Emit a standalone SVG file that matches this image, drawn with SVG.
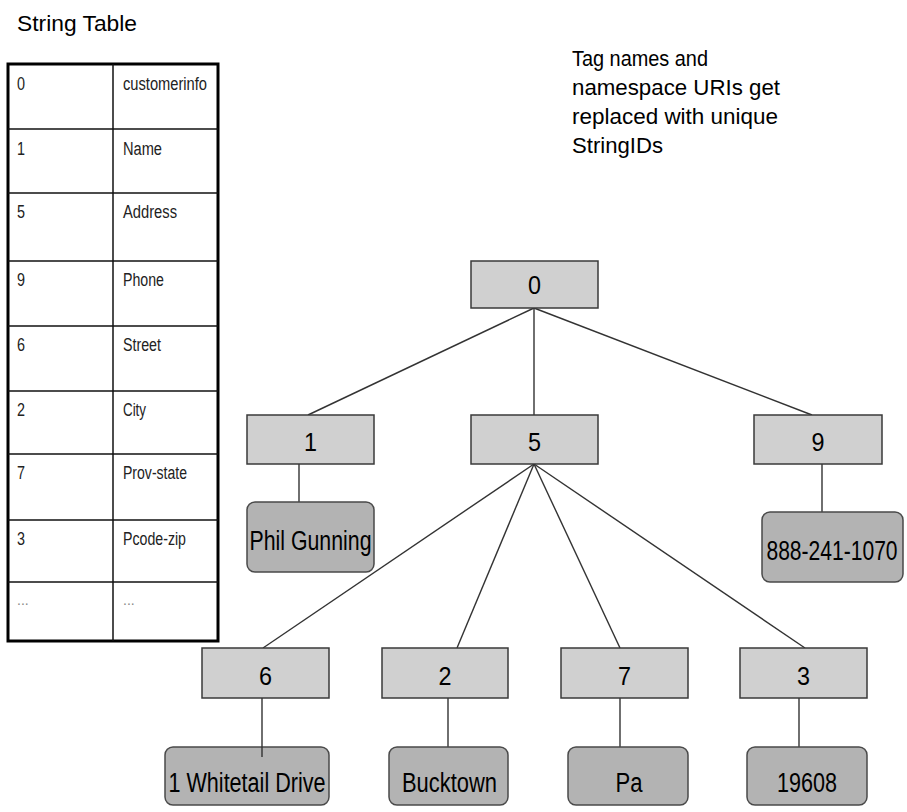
<svg xmlns="http://www.w3.org/2000/svg" width="907" height="812" viewBox="0 0 907 812">
  <style>
    .title { font-family: "Liberation Sans", Arial, sans-serif; font-size: 22px; fill: #000; }
    .cell { font-family: "Liberation Sans", Arial, sans-serif; font-size: 18px; fill: #222; }
    .dots { font-family: "Liberation Sans", Arial, sans-serif; font-size: 14px; fill: #888; }
    .grid { stroke: #111; stroke-width: 1.5; fill: none; }
    .frame { stroke: #000; stroke-width: 3; fill: #fff; }
    .tag rect { fill: #d0d0d0; stroke: #3a3a3a; stroke-width: 1.5; }
    .val rect { fill: #b3b3b3; stroke: #4a4a4a; stroke-width: 1.5; }
    .lbl { font-family: "Liberation Sans", Arial, sans-serif; font-size: 26px; fill: #000; text-anchor: middle; }
    .big { font-size: 27px; }
    .edges line { stroke: #333; stroke-width: 1.4; }
  </style>

  <!-- String table -->
  <g id="string-table">
    <text class="title" x="17" y="31" textLength="120" lengthAdjust="spacingAndGlyphs">String Table</text>
    <rect class="frame" x="8" y="64" width="210" height="577"/>
    <line class="grid" x1="113" y1="64" x2="113" y2="641"/>
    <line class="grid" x1="8" y1="129" x2="218" y2="129"/>
    <line class="grid" x1="8" y1="193" x2="218" y2="193"/>
    <line class="grid" x1="8" y1="261" x2="218" y2="261"/>
    <line class="grid" x1="8" y1="326" x2="218" y2="326"/>
    <line class="grid" x1="8" y1="391" x2="218" y2="391"/>
    <line class="grid" x1="8" y1="454" x2="218" y2="454"/>
    <line class="grid" x1="8" y1="520" x2="218" y2="520"/>
    <line class="grid" x1="8" y1="582" x2="218" y2="582"/>

    <text class="cell" x="17" y="90" textLength="8" lengthAdjust="spacingAndGlyphs">0</text>
    <text class="cell" x="123" y="90" textLength="84" lengthAdjust="spacingAndGlyphs">customerinfo</text>
    <text class="cell" x="17" y="155" textLength="8" lengthAdjust="spacingAndGlyphs">1</text>
    <text class="cell" x="123" y="155" textLength="39" lengthAdjust="spacingAndGlyphs">Name</text>
    <text class="cell" x="17" y="218" textLength="8" lengthAdjust="spacingAndGlyphs">5</text>
    <text class="cell" x="123" y="218" textLength="54" lengthAdjust="spacingAndGlyphs">Address</text>
    <text class="cell" x="17" y="286" textLength="8" lengthAdjust="spacingAndGlyphs">9</text>
    <text class="cell" x="123" y="286" textLength="41" lengthAdjust="spacingAndGlyphs">Phone</text>
    <text class="cell" x="17" y="351" textLength="8" lengthAdjust="spacingAndGlyphs">6</text>
    <text class="cell" x="123" y="351" textLength="38" lengthAdjust="spacingAndGlyphs">Street</text>
    <text class="cell" x="17" y="416" textLength="8" lengthAdjust="spacingAndGlyphs">2</text>
    <text class="cell" x="123" y="416" textLength="23" lengthAdjust="spacingAndGlyphs">City</text>
    <text class="cell" x="17" y="479" textLength="8" lengthAdjust="spacingAndGlyphs">7</text>
    <text class="cell" x="123" y="479" textLength="64" lengthAdjust="spacingAndGlyphs">Prov-state</text>
    <text class="cell" x="17" y="545" textLength="8" lengthAdjust="spacingAndGlyphs">3</text>
    <text class="cell" x="123" y="545" textLength="63" lengthAdjust="spacingAndGlyphs">Pcode-zip</text>
    <text class="dots" x="17" y="605">...</text>
    <text class="dots" x="123" y="605">...</text>
  </g>

  <!-- Caption -->
  <g id="caption">
    <text class="title" x="572" y="66" textLength="136" lengthAdjust="spacingAndGlyphs">Tag names and</text>
    <text class="title" x="572" y="95" textLength="208" lengthAdjust="spacingAndGlyphs">namespace URIs get</text>
    <text class="title" x="572" y="124" textLength="206" lengthAdjust="spacingAndGlyphs">replaced with unique</text>
    <text class="title" x="572" y="153" textLength="91" lengthAdjust="spacingAndGlyphs">StringIDs</text>
  </g>

  <!-- Tree edges -->
  <g id="edges" class="edges">
    <line x1="534" y1="308" x2="308" y2="415"/>
    <line x1="534" y1="308" x2="534" y2="415"/>
    <line x1="534" y1="308" x2="812" y2="415"/>
    <line x1="299" y1="464" x2="299" y2="502"/>
    <line x1="822" y1="464" x2="822" y2="512"/>
    <line x1="534" y1="464" x2="263" y2="648"/>
    <line x1="534" y1="464" x2="457" y2="648"/>
    <line x1="534" y1="464" x2="620" y2="648"/>
    <line x1="534" y1="464" x2="805" y2="648"/>
    <line x1="448" y1="698" x2="448" y2="747"/>
    <line x1="620" y1="698" x2="620" y2="747"/>
    <line x1="799" y1="698" x2="799" y2="747"/>
  </g>

  <!-- Tag nodes -->
  <g id="n0" class="tag"><rect x="471" y="261" width="127" height="47"/><text class="lbl" x="534.5" y="294" textLength="13" lengthAdjust="spacingAndGlyphs">0</text></g>
  <g id="n1" class="tag"><rect x="247" y="415" width="127" height="49"/><text class="lbl" x="310.5" y="451" textLength="13" lengthAdjust="spacingAndGlyphs">1</text></g>
  <g id="n5" class="tag"><rect x="471" y="415" width="127" height="49"/><text class="lbl" x="534.5" y="451" textLength="13" lengthAdjust="spacingAndGlyphs">5</text></g>
  <g id="n9" class="tag"><rect x="754" y="415" width="128" height="49"/><text class="lbl" x="818" y="451" textLength="13" lengthAdjust="spacingAndGlyphs">9</text></g>
  <g id="n6" class="tag"><rect x="202" y="648" width="127" height="50"/><text class="lbl" x="265.5" y="685" textLength="13" lengthAdjust="spacingAndGlyphs">6</text></g>
  <g id="n2" class="tag"><rect x="382" y="648" width="126" height="50"/><text class="lbl" x="445" y="685" textLength="13" lengthAdjust="spacingAndGlyphs">2</text></g>
  <g id="n7" class="tag"><rect x="561" y="648" width="127" height="50"/><text class="lbl" x="624.5" y="685" textLength="13" lengthAdjust="spacingAndGlyphs">7</text></g>
  <g id="n3" class="tag"><rect x="740" y="648" width="127" height="50"/><text class="lbl" x="803.5" y="685" textLength="13" lengthAdjust="spacingAndGlyphs">3</text></g>

  <!-- Value nodes -->
  <g id="v-name" class="val"><rect x="247" y="502" width="127" height="70" rx="8"/><text class="lbl big" x="310.5" y="550" textLength="122" lengthAdjust="spacingAndGlyphs">Phil Gunning</text></g>
  <g id="v-phone" class="val"><rect x="762" y="512" width="141" height="70" rx="8"/><text class="lbl big" transform="translate(832 560) scale(0.78 1)" x="0" y="0">888-241-1070</text></g>
  <g id="v-street" class="val"><rect x="165" y="747" width="164" height="58" rx="8"/><text class="lbl big" x="247" y="792" textLength="157" lengthAdjust="spacingAndGlyphs">1 Whitetail Drive</text></g>
  <g id="v-city" class="val"><rect x="389" y="747" width="119" height="58" rx="8"/><text class="lbl big" x="449.5" y="792" textLength="95" lengthAdjust="spacingAndGlyphs">Bucktown</text></g>
  <g id="v-state" class="val"><rect x="568" y="747" width="120" height="58" rx="8"/><text class="lbl big" x="629" y="792" textLength="27" lengthAdjust="spacingAndGlyphs">Pa</text></g>
  <g id="v-zip" class="val"><rect x="747" y="747" width="120" height="58" rx="8"/><text class="lbl big" x="807" y="792" textLength="60" lengthAdjust="spacingAndGlyphs">19608</text></g>

  <!-- stem that runs into the street box -->
  <g id="edges-over" class="edges">
    <line x1="262" y1="698" x2="262" y2="757"/>
  </g>
</svg>
